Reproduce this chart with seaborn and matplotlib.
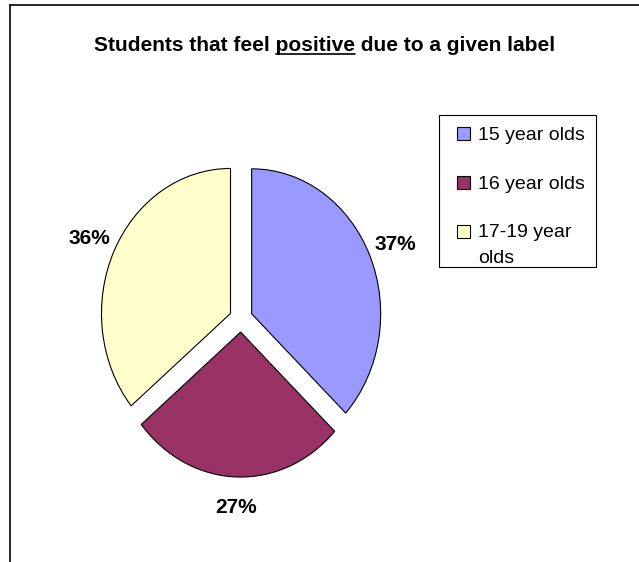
import matplotlib
matplotlib.use('Agg')
import matplotlib.pyplot as plt
import seaborn as sns
from matplotlib.patches import Rectangle
from matplotlib.lines import Line2D
from matplotlib.legend_handler import HandlerPatch

# ---- data ----
categories = ['15 year olds', '16 year olds', '17-19 year\nolds']
shares = [37, 27, 36]
colors = ['#9999FF', '#993366', '#FFFFCC']
title_parts = ['Students that feel ', 'positive', ' due to a given label']

sns.set_theme(style='white')
plt.rcParams['font.family'] = ['Liberation Sans', 'DejaVu Sans']

W, H = 639, 562
fig = plt.figure(figsize=(W / 100, H / 100), dpi=100)
fig.patch.set_facecolor('white')


def fx(px):
    return px / W


def fy(py):
    return 1 - py / H


# ---- pie ----
cx, cy = 241, 319
rx, ry = 129, 145
span = 1.5
ax = fig.add_axes([fx(cx - rx * span), fy(cy + ry * span),
                   2 * rx * span / W, 2 * ry * span / H])
wedges, texts, autotexts = ax.pie(
    shares, colors=colors, startangle=90, counterclock=False,
    explode=[0.09] * len(shares), autopct='%1.0f%%', pctdistance=1.21,
    wedgeprops=dict(edgecolor='black', linewidth=0.8),
    textprops=dict(fontsize=15, fontweight='bold', color='black'))
ax.set_aspect('auto')
ax.set_xlim(-span, span)
ax.set_ylim(-span, span)
ax.axis('off')

# ---- legend ----
LEG_FS = 14
LINESP = 1.65
LINE_GAP_PX = 27


def first_line_patch(legend, orig_handle, xdescent, ydescent, width, height, fontsize):
    shift = 0.5 * LINE_GAP_PX * 72 / 100
    return Rectangle((-xdescent, -ydescent + shift), width, height)


leg = ax.legend(wedges, categories, loc='upper left',
                bbox_to_anchor=(fx(457), fy(127)), bbox_transform=fig.transFigure,
                frameon=False, borderpad=0, borderaxespad=0, fontsize=LEG_FS,
                handlelength=0.65, handleheight=0.65, handletextpad=0.45,
                labelspacing=1.61,
                handler_map={wedges[2]: HandlerPatch(patch_func=first_line_patch)})
for t in leg.get_texts():
    t.set_linespacing(LINESP)
    t.set_color('black')

fig.add_artist(Rectangle((fx(439), fy(267)), (596 - 439) / W, (267 - 115) / H,
                         transform=fig.transFigure, fill=False,
                         edgecolor='black', linewidth=0.8))

# ---- chart border (top and left visible) ----
fig.add_artist(Line2D([fx(10), 1.0], [fy(5), fy(5)], transform=fig.transFigure,
                      color='black', linewidth=1.2))
fig.add_artist(Line2D([fx(10), fx(10)], [fy(5), 0.0], transform=fig.transFigure,
                      color='black', linewidth=1.2))

# ---- title with underlined word ----
TITLE_FS = 15
full = ''.join(title_parts)
title = fig.text(fx(325), fy(51), full, ha='center', va='baseline',
                 fontsize=TITLE_FS, fontweight='bold', color='black')
fig.canvas.draw()
r = fig.canvas.get_renderer()


def text_width(s):
    tmp = fig.text(0, 0, s, fontsize=TITLE_FS, fontweight='bold')
    w = tmp.get_window_extent(r).width
    tmp.remove()
    return w


bb = title.get_window_extent(r)
x0 = bb.x0 + text_width(title_parts[0] + title_parts[1]) - text_width(title_parts[1])
x1 = x0 + text_width(title_parts[1])
yb = fy(51) * H - 2.5
fig.add_artist(Line2D([x0 / W, x1 / W], [yb / H, yb / H], transform=fig.transFigure,
                      color='black', linewidth=1.2))

fig.savefig('out.png', dpi=100)
